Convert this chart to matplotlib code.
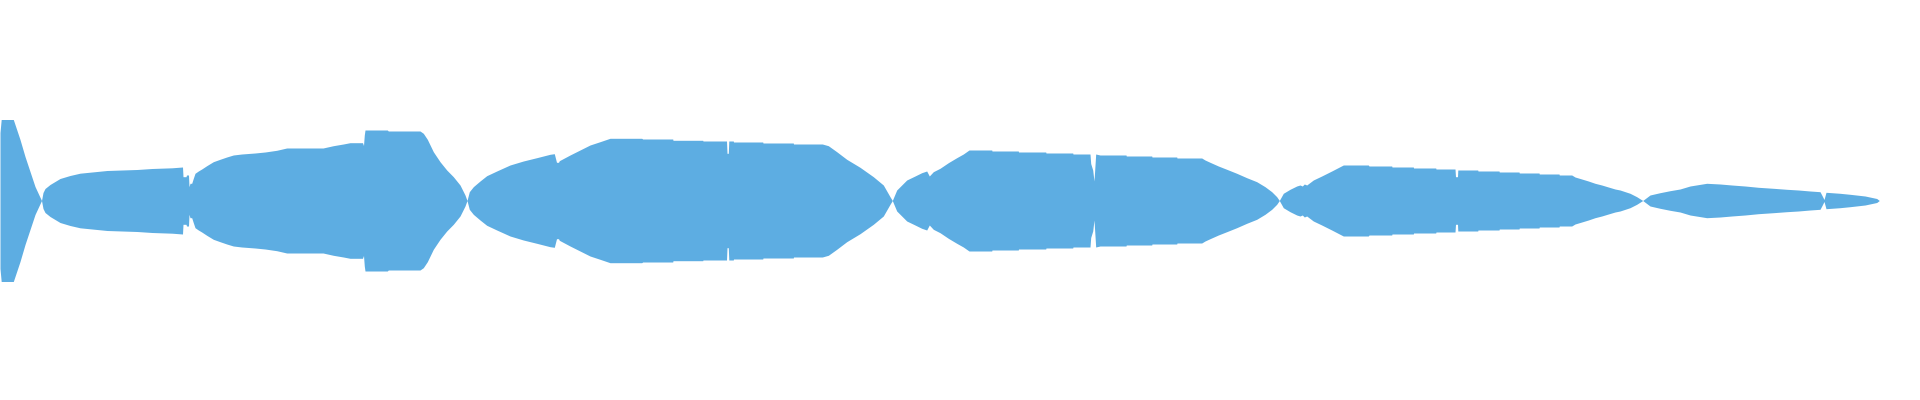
import numpy as np
import matplotlib
matplotlib.use("Agg")
import matplotlib.pyplot as plt

# waveform envelope: frame position and peak amplitude (mirrored around 0)
frames = [0, 1.2, 13.3, 20, 25, 30, 35, 41.5, 43, 45, 50, 60, 70, 80, 107, 137, 152, 172,
          182.5, 183, 186, 186.5, 188.5, 189, 190, 191.7, 193.3, 195, 198.3, 201.7, 206.7,
          213.3, 220, 226.7, 233.3, 241.7, 255, 265, 276.7, 286.7, 323, 333.3, 343.3, 350,
          362.5, 363.5, 364.3, 365, 387.3, 388.3, 420, 423.3, 427.3, 433.3, 440, 446.7,
          453.3, 460, 465, 467, 469.3, 473.3, 480, 486.7, 496.7, 510, 523.3, 536.7, 550,
          554.3, 556.5, 558.5, 559.3, 570, 580, 590, 600, 610, 641.7, 642.7, 672.7, 673,
          702.7, 703, 726.5, 727, 728.3, 728.8, 733.3, 733.5, 762.7, 763, 793.3, 793.5,
          822.3, 828.3, 836.7, 846.7, 860, 873.3, 883.3, 890, 892.3, 896.7, 900, 906.7,
          915, 921.7, 926.7, 929.3, 933.3, 940, 948.3, 956.7, 963.3, 969, 991.7, 992,
          1018.3, 1018.5, 1045.7, 1046, 1072.7, 1073, 1090, 1090.7, 1092.7, 1094, 1095.7,
          1100, 1126, 1126.3, 1151.7, 1152, 1176.7, 1177, 1201.7, 1205, 1210, 1218.3,
          1226.7, 1236.7, 1246.7, 1256.7, 1265, 1271.7, 1276.7, 1279.3, 1283.3, 1290,
          1296.7, 1300, 1302.3, 1304.3, 1306.7, 1313.3, 1321.7, 1331.7, 1340, 1343.3,
          1368.3, 1369, 1391.7, 1392, 1413.3, 1413.6, 1435.7, 1436, 1455, 1455.5, 1457.5,
          1457.8, 1477.7, 1478, 1499, 1499.3, 1519, 1519.3, 1539, 1539.3, 1559, 1559.3,
          1571.7, 1575, 1581.7, 1588.3, 1595, 1601.7, 1608.3, 1615, 1620, 1630, 1636.7,
          1642.7, 1650, 1660, 1670, 1680, 1690, 1706.7, 1720, 1731.7, 1745, 1758.3,
          1773.3, 1786.7, 1798.3, 1810, 1820, 1822, 1824, 1826, 1840, 1850, 1865,
          1876.7, 1879.3]
peak = [68, 81, 81, 61, 44, 29, 14, 0, 8, 12, 16, 22, 25, 27.3, 30, 31, 32, 32.7,
        33.5, 23.8, 23.8, 25.5, 25.5, 13.8, 17.2, 17.2, 22.2, 27.2, 29.5, 31.5, 34.8,
        38.8, 41.2, 43.5, 45.5, 46.5, 47.5, 48.5, 50.2, 52.5, 52.5, 54.8, 56.5, 57.8,
        57.8, 55, 65.5, 70.5, 70.5, 69.5, 69.5, 67.2, 61.2, 48.8, 38.8, 30.5,
        23.8, 15.5, 5.5, 0, 8.8, 13.8, 19.5, 24.8, 29.5, 35.5, 39.5, 42.8, 46.2,
        46.8, 38.2, 38.2, 39.8, 45.5, 50.5, 55.5, 58.8, 62.2, 62.2, 61.5, 61.5, 60.2,
        60.2, 59.5, 59.5, 47.2, 47.2, 59.5, 59.5, 58.5, 58.5, 57.5, 57.5, 56.5,
        56.5, 54.8, 48.8, 41.2, 33.2, 23.8, 15.5, 3.8, 0, 10.5, 13.8, 20.5,
        24.5, 27.8, 29.5, 24.5, 28.8, 32.2, 37.8, 42.8, 46.5, 50.5, 50.5, 49.5,
        49.5, 48.5, 48.5, 47.5, 47.5, 46.5, 46.5, 37, 30.5, 19.5, 46.5,
        45.5, 45.5, 44.5, 44.5, 43.5, 43.5, 42.5, 42.5, 40.5, 38.2, 34.5,
        31.2, 27.2, 22.8, 18.8, 13.8, 8.8, 3.8, 0, 7.2, 11.2,
        14.5, 15.5, 14.5, 16.5, 15.5, 20.5, 24.5, 29.5, 33.8, 35.5,
        35.5, 34.5, 34.5, 33.5, 33.5, 32.5, 32.5, 31.5, 31.5, 23.8, 23.8,
        30.5, 30.5, 29.5, 29.5, 28.5, 28.5, 27.5, 27.5, 26.5, 26.5, 25.5,
        25.5, 23.5, 21.5, 19.5, 17.2, 15.5, 13.5, 11.5, 10.5, 7.2, 3.8,
        0, 5.5, 7.8, 9.8, 11.5, 14.5, 17.2, 16.5, 15.5, 14.5, 13.2,
        12.2, 11.2, 10.5, 9.5, 8.8, 5, 1, 8.2, 7.2, 6.2, 4.5,
        2, 0]

frames = np.array(frames)
peak = np.array(peak)

fig = plt.figure(figsize=(19.2, 4), dpi=100)
ax = fig.add_axes([0, 0, 1, 1])
ax.fill_between(frames, -peak, peak, color='#5DADE2', linewidth=0)
ax.set_xlim(0, 1920)
ax.set_ylim(-199.5, 200.5)
ax.axis('off')

plt.savefig("out.png", dpi=100)
